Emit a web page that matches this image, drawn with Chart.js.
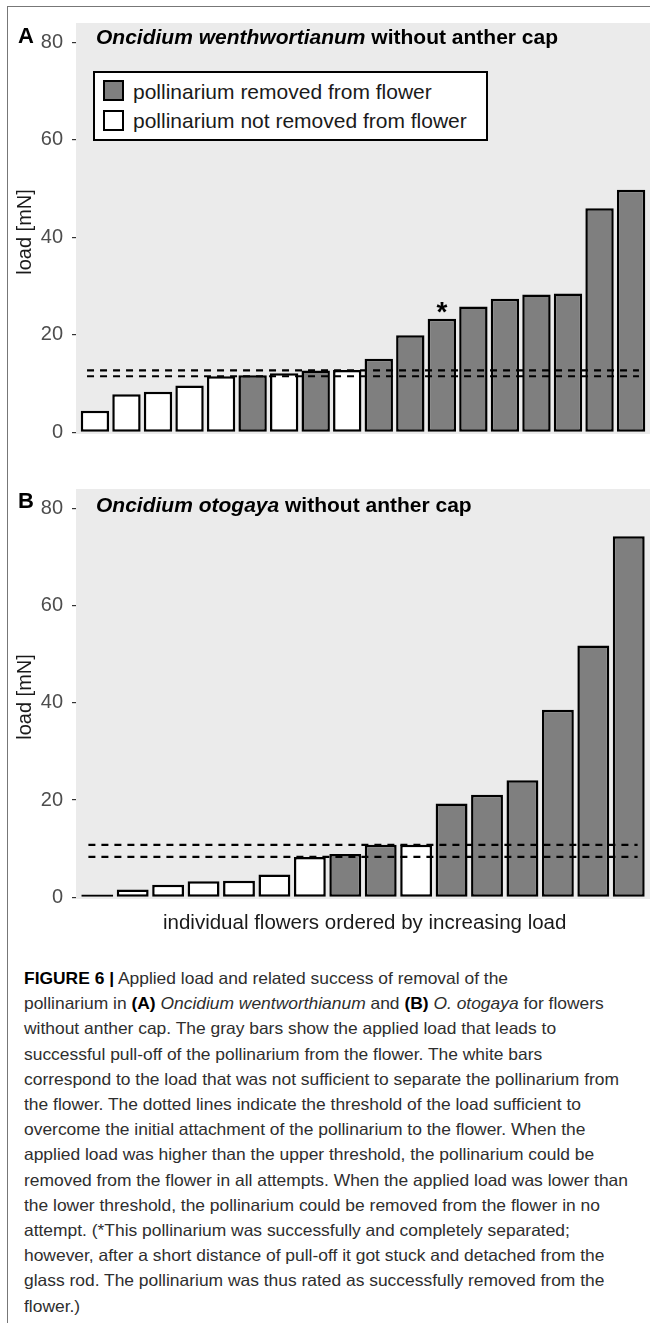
<!DOCTYPE html>
<html>
<head>
<meta charset="utf-8">
<script src="https://cdn.jsdelivr.net/npm/chart.js@4.4.1/dist/chart.umd.min.js"></script>
<style>
  body { margin: 0; width: 650px; height: 1323px; position: relative; overflow: hidden; background: #fff;
         font-family: "Liberation Sans", Arial, sans-serif; }
  .abs { position: absolute; white-space: nowrap; line-height: 1; z-index: 2; }
  canvas { position: absolute; left: 0; z-index: 1; }
  #frame { position: absolute; left: 7px; top: 6px; right: -2px; bottom: -2px; border-top: 1.5px solid #777; border-left: 1.5px solid #777; }
  .panel { font-weight: bold; font-size: 22px; color: #000; }
  .title { font-weight: bold; font-size: 21px; color: #000; }
  .ytitle { font-size: 20px; color: #1a1a1a; width: 200px; text-align: center; transform: rotate(-90deg); }
  .legend { position: absolute; left: 93px; top: 71px; width: 391px; height: 66px; border: 2px solid #000; background: #fff; z-index: 2; }
  .sw { position: absolute; left: 8px; width: 17px; height: 17px; border: 2px solid #000; }
  .lt { position: absolute; left: 38px; font-size: 21px; color: #1a1a1a; line-height: 1; white-space: nowrap; }
  #caption { position: absolute; left: 24px; top: 966px; font-size: 16.5px; line-height: 25.2px; color: #2e2e2e; z-index: 2; }
  #caption div { white-space: nowrap; transform-origin: 0 50%; }
  #caption b { color: #000; }
</style>
</head>
<body>
<div id="frame"></div>

<canvas id="chartA" width="650" height="455" style="top:0px"></canvas>
<canvas id="chartB" width="650" height="455" style="top:465px"></canvas>

<div class="abs panel" style="left:18px; top:24.5px;">A</div>
<div class="abs title" style="left:96px; top:25.5px;"><i>Oncidium wenthwortianum</i> without anther cap</div>
<div class="abs ytitle" style="left:-76px; top:221.5px;">load [mN]</div>

<div class="legend">
  <div class="sw" style="top:7px; background:#7f7f7f;"></div>
  <div class="lt" style="top:8px;">pollinarium removed from flower</div>
  <div class="sw" style="top:37px; background:#fff;"></div>
  <div class="lt" style="top:37px;">pollinarium not removed from flower</div>
</div>

<div class="abs panel" style="left:18px; top:490px;">B</div>
<div class="abs title" style="left:96px; top:493.5px;"><i>Oncidium otogaya</i> without anther cap</div>
<div class="abs ytitle" style="left:-76px; top:687px;">load [mN]</div>

<div class="abs" style="left:163px; width:400px; text-align:center; top:912px; font-size:20.5px; color:#1a1a1a;">individual flowers ordered by increasing load</div>

<div id="caption">
  <div><b>FIGURE 6 |</b> Applied load and related success of removal of the</div>
  <div>pollinarium in <b>(A)</b> <i>Oncidium wentworthianum</i> and <b>(B)</b> <i>O. otogaya</i> for flowers</div>
  <div>without anther cap. The gray bars show the applied load that leads to</div>
  <div>successful pull-off of the pollinarium from the flower. The white bars</div>
  <div>correspond to the load that was not sufficient to separate the pollinarium from</div>
  <div>the flower. The dotted lines indicate the threshold of the load sufficient to</div>
  <div>overcome the initial attachment of the pollinarium to the flower. When the</div>
  <div>applied load was higher than the upper threshold, the pollinarium could be</div>
  <div>removed from the flower in all attempts. When the applied load was lower than</div>
  <div>the lower threshold, the pollinarium could be removed from the flower in no</div>
  <div>attempt. (*This pollinarium was successfully and completely separated;</div>
  <div>however, after a short distance of pull-off it got stuck and detached from the</div>
  <div>glass rod. The pollinarium was thus rated as successfully removed from the</div>
  <div>flower.)</div>
</div>

<script>
// panel A - Oncidium wenthwortianum, flowers ordered by load
const flowersA = [1, 2, 3, 4, 5, 6, 7, 8, 9, 10, 11, 12, 13, 14, 15, 16, 17, 18];
const loadsA = [4.4, 7.8, 8.3, 9.6, 11.5, 11.7, 12.1, 12.7, 12.8, 15.1, 19.9, 23.3, 25.8, 27.4, 28.3, 28.5, 46.0, 49.8];
const removedA = [0, 0, 0, 0, 0, 1, 0, 1, 0, 1, 1, 1, 1, 1, 1, 1, 1, 1]; // 1 = pollinarium removed
const thresholdsA = [11.5, 12.7];
const starredA = [12]; // flower that got stuck after pull-off

// panel B - Oncidium otogaya
const flowersB = [1, 2, 3, 4, 5, 6, 7, 8, 9, 10, 11, 12, 13, 14, 15, 16];
const loadsB = [0.6, 1.6, 2.6, 3.3, 3.4, 4.7, 8.3, 8.9, 10.8, 10.8, 19.3, 21.1, 24.1, 38.6, 51.8, 74.3];
const removedB = [0, 0, 0, 0, 0, 0, 0, 1, 1, 0, 1, 1, 1, 1, 1, 1];
const thresholdsB = [8.3, 10.8];
const starredB = [];

const yTicks = [0, 20, 40, 60, 80];

// gray panel background, like ggplot
const panelBg = {
  id: 'panelBg',
  beforeDraw(chart) {
    const a = chart.chartArea, ctx = chart.ctx;
    ctx.save();
    ctx.fillStyle = '#ebebeb';
    ctx.fillRect(a.left, a.top, a.right - a.left, a.bottom - a.top);
    ctx.restore();
  }
};

// asterisk above marked bars
const starMark = {
  id: 'starMark',
  afterDatasetsDraw(chart, args, opts) {
    const ctx = chart.ctx;
    const meta = chart.getDatasetMeta(0);
    ctx.save();
    ctx.fillStyle = '#000';
    ctx.font = 'bold 28px "Liberation Sans", Arial, sans-serif';
    ctx.textAlign = 'center';
    ctx.textBaseline = 'alphabetic';
    (opts.flowers || []).forEach(f => {
      const bar = meta.data[f - 1];
      ctx.fillText('*', bar.x, bar.y + 2);
    });
    ctx.restore();
  }
};

function makeChart(id, flowers, loads, removed, thresholds, starred, padTop) {
  const n = flowers.length;
  const datasets = [{
    type: 'bar',
    data: flowers.map((f, i) => ({ x: f, y: loads[i] })),
    backgroundColor: removed.map(r => r ? '#7f7f7f' : '#ffffff'),
    borderColor: '#000',
    borderWidth: 2.5,
    borderSkipped: false,
    categoryPercentage: 1,
    barPercentage: 0.9,
    order: 2
  }];
  thresholds.forEach(t => {
    datasets.push({
      type: 'line',
      data: [{ x: flowers[0] - 0.25, y: t }, { x: flowers[n - 1] + 0.25, y: t }],
      borderColor: '#000',
      borderWidth: 2.2,
      borderDash: [7, 6],
      pointRadius: 0,
      fill: false,
      order: 1
    });
  });

  return new Chart(document.getElementById(id), {
    type: 'bar',
    data: { datasets },
    plugins: [panelBg, starMark],
    options: {
      responsive: false,
      animation: false,
      layout: { padding: { left: 0, right: 0, top: padTop, bottom: 15 } },
      plugins: {
        legend: { display: false },
        tooltip: { enabled: false },
        starMark: { flowers: starred }
      },
      scales: {
        x: { type: 'linear', display: false, offset: false, min: flowers[0] - 0.6, max: flowers[n - 1] + 0.6 },
        y: {
          min: -0.35,
          max: 84,
          afterBuildTicks: s => { s.ticks = yTicks.map(v => ({ value: v })); },
          afterFit: s => { s.width = 76; },
          border: { display: false },
          grid: { drawOnChartArea: false, drawTicks: true, tickLength: 4, color: '#333', lineWidth: 1.2 },
          ticks: { padding: 9, color: '#4d4d4d', font: { family: '"Liberation Sans", Arial, sans-serif', size: 20 } }
        }
      }
    }
  });
}

makeChart('chartA', flowersA, loadsA, removedA, thresholdsA, starredA, 23);
makeChart('chartB', flowersB, loadsB, removedB, thresholdsB, starredB, 24);

// the caption font is condensed; squeeze lines so the long second line fits the column
const lines = document.querySelectorAll('#caption div');
const k = 604 / lines[1].getBoundingClientRect().width;
lines.forEach(l => { l.style.transform = 'scaleX(' + k + ')'; });
</script>
</body>
</html>
